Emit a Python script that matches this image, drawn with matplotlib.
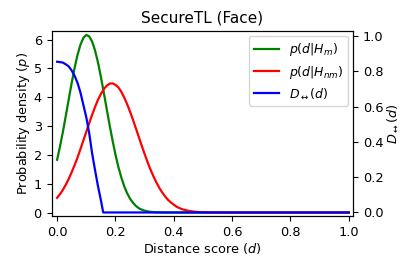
import matplotlib
matplotlib.use("Agg")
import matplotlib.pyplot as plt

# Distance grid for the two densities
d_pdf = [0.00, 0.01, 0.02, 0.03, 0.04, 0.05, 0.06, 0.07, 0.08, 0.09,
         0.10, 0.11, 0.12, 0.13, 0.14, 0.15, 0.16, 0.17, 0.18, 0.19,
         0.20, 0.21, 0.22, 0.23, 0.24, 0.25, 0.26, 0.27, 0.28, 0.29,
         0.30, 0.31, 0.32, 0.33, 0.34, 0.35, 0.36, 0.37, 0.38, 0.39,
         0.40, 0.41, 0.42, 0.43, 0.44, 0.45, 0.46, 0.47, 0.48, 0.49,
         0.50, 0.52, 0.54, 0.56, 0.58, 0.60, 0.70, 0.80, 0.90, 1.00]
p_match = [1.83, 2.30, 2.81, 3.37, 3.94, 4.50, 5.02, 5.47, 5.82, 6.06,
           6.16, 6.11, 5.93, 5.62, 5.21, 4.71, 4.16, 3.59, 3.03, 2.50,
           2.01, 1.58, 1.22, 0.91, 0.67, 0.48, 0.34, 0.23, 0.15, 0.10,
           0.064, 0.040, 0.024, 0.014, 0.008, 0.004, 0.002, 0.001, 0.0, 0.0,
           0.0, 0.0, 0.0, 0.0, 0.0, 0.0, 0.0, 0.0, 0.0, 0.0,
           0.0, 0.0, 0.0, 0.0, 0.0, 0.0, 0.0, 0.0, 0.0, 0.0]
p_nonmatch = [0.51, 0.64, 0.79, 0.97, 1.17, 1.40, 1.65, 1.91, 2.20, 2.50,
              2.80, 3.10, 3.39, 3.66, 3.91, 4.11, 4.28, 4.40, 4.47, 4.48,
              4.43, 4.34, 4.19, 3.99, 3.76, 3.50, 3.22, 2.92, 2.62, 2.32,
              2.03, 1.75, 1.49, 1.26, 1.05, 0.86, 0.70, 0.56, 0.44, 0.35,
              0.27, 0.20, 0.15, 0.11, 0.084, 0.061, 0.044, 0.031, 0.022, 0.015,
              0.010, 0.004, 0.0015, 0.0005, 0.0, 0.0, 0.0, 0.0, 0.0, 0.0]

# Distance grid for D<->(d)
d_D = [0.00, 0.01, 0.02, 0.03, 0.04, 0.05, 0.06, 0.07, 0.08, 0.09,
       0.10, 0.11, 0.12, 0.13, 0.14, 0.15, 0.158, 0.20, 0.40, 0.60, 0.80, 1.00]
D_vals = [0.855, 0.853, 0.850, 0.840, 0.828, 0.805, 0.775, 0.735, 0.680, 0.610,
          0.540, 0.450, 0.335, 0.240, 0.150, 0.070, 0.0, 0.0, 0.0, 0.0, 0.0, 0.0]

x_ticks = [0.0, 0.2, 0.4, 0.6, 0.8, 1.0]
y_ticks = [0, 1, 2, 3, 4, 5, 6]
y2_ticks = [0.0, 0.2, 0.4, 0.6, 0.8, 1.0]

plt.rcParams['font.size'] = 9.3
fig = plt.figure(figsize=(4.16, 2.71), dpi=100)
ax = fig.add_axes([0.124, 0.203, 0.725, 0.683])
l1, = ax.plot(d_pdf, p_match, color='green', lw=1.6, label='$p(d|H_m)$')
l2, = ax.plot(d_pdf, p_nonmatch, color='red', lw=1.6, label='$p(d|H_{nm})$')
ax2 = ax.twinx()
l3, = ax2.plot(d_D, D_vals, color='blue', lw=1.6, label=r'$D_{\leftrightarrow}(d)$')

ax.set_xlim(-0.019, 1.015)
ax.set_ylim(-0.12, 6.3)
ax2.set_ylim(-0.02, 1.03)
ax.set_xticks(x_ticks)
ax.set_yticks(y_ticks)
ax2.set_yticks(y2_ticks)
ax.set_xticklabels([f"{v:.1f}" for v in x_ticks])
ax2.set_yticklabels([f"{v:.1f}" for v in y2_ticks])

ax.set_title('SecureTL (Face)', fontsize=11)
ax.set_xlabel('Distance score ($d$)', labelpad=1.5)
ax.set_ylabel('Probability density ($p$)', labelpad=1.5)
ax2.set_ylabel(r'$D_{\leftrightarrow}(d)$', labelpad=1.5)

ax2.legend(handles=[l1, l2, l3], loc='upper right', fontsize=9,
           borderaxespad=0.4, labelspacing=0.45)

fig.savefig('out.png', dpi=100)
